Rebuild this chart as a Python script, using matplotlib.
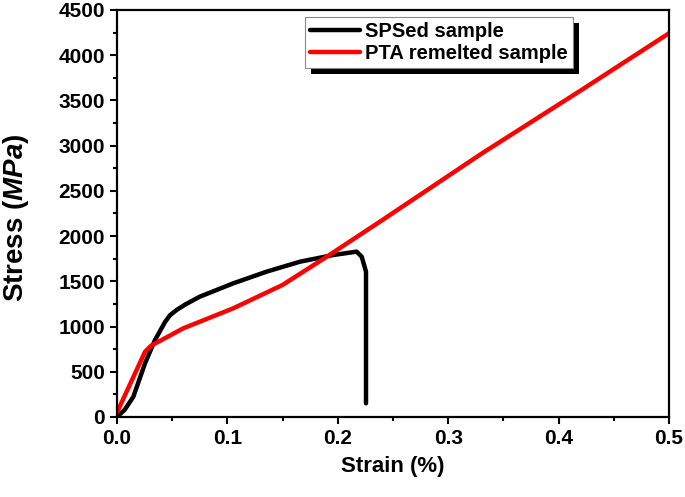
import numpy as np
import matplotlib
matplotlib.use('Agg')
import matplotlib.pyplot as plt
from matplotlib.patches import Rectangle
from matplotlib.ticker import MultipleLocator

plt.rcParams['font.family'] = 'Liberation Sans'
plt.rcParams['font.weight'] = 'bold'
plt.rcParams['mathtext.fontset'] = 'custom'
plt.rcParams['mathtext.it'] = 'Liberation Sans:italic:bold'

# SPSed sample
sps_strain = [0.0, 0.007, 0.0148, 0.0254, 0.0344, 0.0435, 0.048, 0.054, 0.062, 0.075,
              0.1054, 0.1356, 0.1658, 0.196, 0.217, 0.2216, 0.2255, 0.2255]
sps_stress = [0, 80, 224, 594, 851, 1050, 1125, 1183, 1245, 1330,
              1478, 1607, 1717, 1791, 1828, 1772, 1607, 151]

# PTA remelted sample
pta_strain = [0.0, 0.0254, 0.031, 0.038, 0.06, 0.1054, 0.15, 0.19, 0.2382, 0.33, 0.42, 0.5]
pta_stress = [50, 722, 790, 835, 980, 1202, 1460, 1772, 2160, 2910, 3610, 4243]

fig = plt.figure(figsize=(6.85, 4.97), dpi=100)
ax = fig.add_axes([0.1708, 0.161, 0.806, 0.819])

ax.plot(sps_strain, sps_stress, color='black', lw=3.2, label='SPSed sample',
        solid_capstyle='round', solid_joinstyle='round')
ax.plot(pta_strain, pta_stress, color='#ff0000', lw=3.2, label='PTA remelted sample',
        solid_capstyle='round', solid_joinstyle='round')

ax.set_xlim(0, 0.5)
ax.set_ylim(0, 4500)
ax.xaxis.set_major_locator(MultipleLocator(0.1))
ax.xaxis.set_minor_locator(MultipleLocator(0.05))
ax.yaxis.set_major_locator(MultipleLocator(500))
ax.yaxis.set_minor_locator(MultipleLocator(250))
ax.tick_params(which='major', direction='out', length=5, width=1.5, labelsize=15)
ax.tick_params(which='minor', direction='out', length=3, width=1.5)
for s in ax.spines.values():
    s.set_linewidth(1.6)

ax.set_xlabel('Strain (%)', fontsize=16, fontweight='bold', labelpad=6)
ax.set_ylabel(r'Stress ($\mathit{MPa}$)', fontsize=20, fontweight='bold')
ax.yaxis.set_label_coords(-0.155, 0.49)

leg = ax.legend(loc='upper left', bbox_to_anchor=(0.34, 0.982), fontsize=14.5,
                frameon=True, fancybox=False, edgecolor='#888888', framealpha=1,
                handlelength=2.5, handletextpad=0.25, borderpad=0.25, labelspacing=0.15,
                borderaxespad=0)
leg.get_frame().set_linewidth(0.8)
leg.set_zorder(6)

fig.canvas.draw()
bb = leg.get_window_extent()
off = 6
shadow = Rectangle((bb.x0 + off, bb.y0 - off), bb.width, bb.height,
                   transform=None, facecolor='black', edgecolor='none', zorder=5)
ax.add_artist(shadow)

fig.savefig('out.png', dpi=100)
